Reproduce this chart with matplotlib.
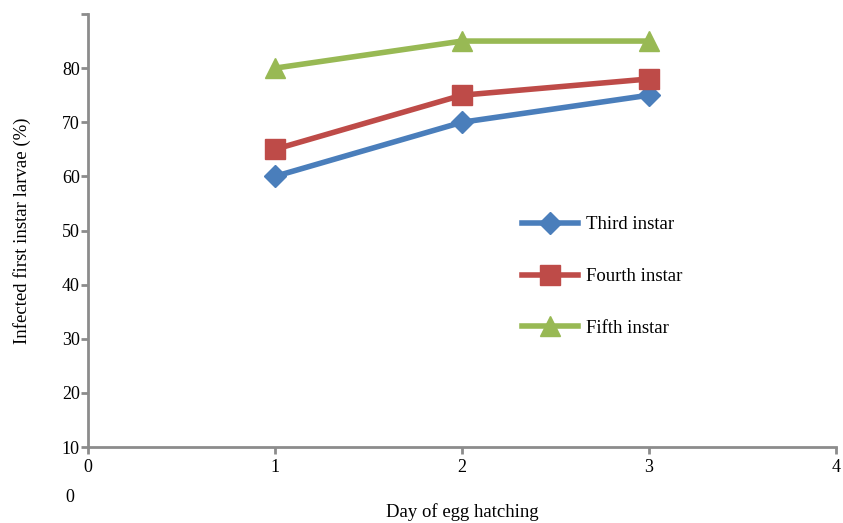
import matplotlib
matplotlib.use('Agg')
from matplotlib import pyplot as plt

days = [1, 2, 3]
third = [60, 70, 75]
fourth = [65, 75, 78]
fifth = [80, 85, 85]
names = ['Third instar', 'Fourth instar', 'Fifth instar']
yticks = [10, 20, 30, 40, 50, 60, 70, 80, 90]
ylabels = ['10', '20', '30', '40', '50', '60', '70', '80', '']
xticks = [0, 1, 2, 3, 4]

plt.rcParams['font.family'] = ['Liberation Serif', 'DejaVu Serif']

fig = plt.figure(figsize=(8.43, 5.23), dpi=100)
ax = fig.add_axes([88/843, (523-447)/523, (836-88)/843, (447-14)/523])

ax.plot(days, third, color='#4A7EBB', lw=4, marker='D', ms=11, label=names[0])
ax.plot(days, fourth, color='#BE4B48', lw=4, marker='s', ms=14, label=names[1])
ax.plot(days, fifth, color='#98B954', lw=4, marker='^', ms=15, label=names[2])

ax.set_xlim(0, 4)
ax.set_ylim(10, 90)
ax.set_xticks(xticks)
ax.set_yticks(yticks)
ax.set_yticklabels(ylabels)

for s in ['top', 'right']:
    ax.spines[s].set_visible(False)
for s in ['left', 'bottom']:
    ax.spines[s].set_color('#8c8c8c')
    ax.spines[s].set_linewidth(2)
ax.tick_params(colors='#8c8c8c', width=2, length=5, labelcolor='black', labelsize=13)
ax.tick_params(axis='x', pad=4)
ax.tick_params(axis='y', pad=1)

ax.set_ylabel('Infected first instar larvae (%)', fontsize=13.5, labelpad=22)
fig.text(462/843, 1 - 512/523, 'Day of egg hatching', fontsize=13.5, ha='center', va='center')
fig.text(70/843, 1 - 497/523, '0', fontsize=13, ha='center', va='center')

leg = ax.legend(loc='upper left', bbox_to_anchor=(0.557, 0.572), frameon=False,
                fontsize=13.5, handlelength=3.0, labelspacing=1.85, handletextpad=0.45)

fig.savefig('out.png', dpi=100)
